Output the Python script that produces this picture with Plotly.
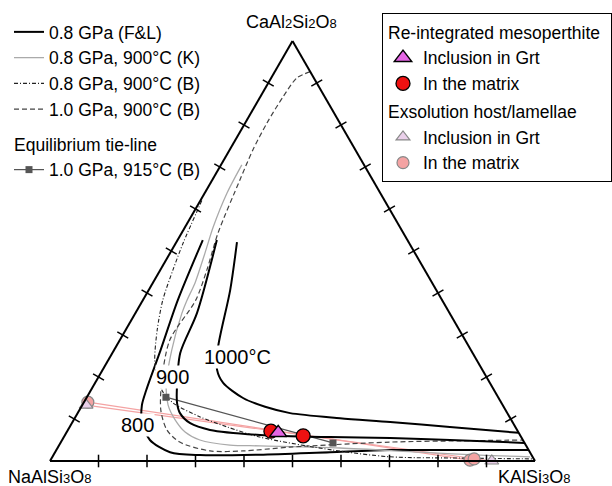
import plotly.graph_objects as go

# ---------------- data (An, Or in mol%; Ab = 100 - An - Or) ----------------
fl800_an = [52.6, 38.3, 26.4, 16.9, 13.3, 9.0, 5.0, 2.1, 1.4, 1.5, 2.1, 2.6, 2.6, 2.6]
fl800_or = [5.2, 7.2, 9.6, 11.4, 12.3, 14.5, 18.1, 23.7, 30.2, 42.5, 56.7, 68.8, 83.2, 97.4]

fl900_an = [52.6, 35.2, 25.7, 16.9, 13.8, 11.4, 9.0, 7.4, 6.2, 5.7, 5.5, 5.0, 4.3]
fl900_or = [8.1, 12.7, 14.0, 17.7, 19.3, 21.1, 24.4, 29.3, 40.2, 54.9, 67.4, 80.0, 95.7]

fl1000_an = [52.1, 40.7, 27.1, 21.7, 18.6, 15.0, 12.9, 11.4, 10.2, 9.3, 8.1, 6.7]
fl1000_or = [12.5, 16.8, 21.1, 23.6, 26.4, 32.3, 37.9, 43.8, 54.7, 65.5, 78.4, 93.3]

k900_an = [70.5, 63.8, 55.7, 49.5, 42.4, 38.3, 35.2, 26.4, 18.1, 13.3, 9.8, 6.9, 5.0, 3.8, 3.6, 3.1, 2.1, 1.4, 1.0]
k900_or = [4.3, 4.6, 5.8, 7.2, 8.7, 9.1, 9.6, 11.9, 14.9, 17.7, 20.9, 24.4, 28.4, 35.2, 41.5, 58.2, 75.2, 87.9, 98.5]

b08_an = [62.0, 51.9, 45.5, 38.3, 31.2, 24.0, 19.3, 16.4, 13.8, 10.5, 8.1, 5.7, 2.6, 1.0, 0.7, 0.5]
b08_or = [0.3, 1.5, 2.6, 4.1, 6.5, 9.6, 12.6, 15.1, 18.5, 25.7, 32.5, 40.4, 57.0, 69.6, 84.2, 99.1]

b10_an = [92.7, 91.2, 86.7, 80.5, 74.0, 66.9, 54.3, 45.5, 38.3, 28.8, 19.3, 12.1, 7.4, 4.5, 2.4, 2.4, 3.3, 4.5, 4.8, 5.0]
b10_or = [7.3, 5.3, 4.7, 4.5, 4.8, 5.7, 7.5, 9.6, 10.9, 10.3, 13.4, 16.8, 20.4, 24.5, 31.8, 38.6, 47.8, 67.8, 82.2, 95.0]

tie_an = [15.2, 4.3]
tie_or = [16.3, 56.2]

re_incl_an = [6.7]
re_incl_or = [43.7]
re_mat_an = [7.1, 6.0]
re_mat_or = [42.0, 49.2]

ex_incl_an = [13.3, 0.0]
ex_incl_or = [0.8, 91.1]
ex_mat_an = [14.0, 0.2, 0.5]
ex_mat_or = [0.8, 86.5, 87.2]

tick_vals = [10, 20, 30, 40, 50, 60, 70, 80, 90]


def ab(an, orr):
    return [100 - a - o for a, o in zip(an, orr)]


FONT = "Liberation Sans, Arial, sans-serif"
LEG_SIZE = 17.5
fig = go.Figure()

# ---------------- pink host/lamellae tie-lines ----------------
fig.add_trace(go.Scatterternary(a=[ex_mat_an[0], ex_mat_an[1], None, ex_incl_an[0], ex_incl_an[1]],
                                c=[ex_mat_or[0], ex_mat_or[1], None, ex_incl_or[0], ex_incl_or[1]],
                                b=[100 - ex_mat_an[0] - ex_mat_or[0], 100 - ex_mat_an[1] - ex_mat_or[1], None,
                                   100 - ex_incl_an[0] - ex_incl_or[0], 100 - ex_incl_an[1] - ex_incl_or[1]],
                                mode="lines", line=dict(color="#f4a3a3", width=1.2),
                                showlegend=False, hoverinfo="skip"))

# ---------------- solvus curves (legend entries) ----------------
spl = dict(shape="spline", smoothing=0.8)
fig.add_trace(go.Scatterternary(a=fl800_an, c=fl800_or, b=ab(fl800_an, fl800_or), mode="lines",
                                line=dict(color="black", width=2, **spl),
                                name="0.8 GPa (F&L)", legend="legend", legendgroup="curves"))
fig.add_trace(go.Scatterternary(a=k900_an, c=k900_or, b=ab(k900_an, k900_or), mode="lines",
                                line=dict(color="#aaaaaa", width=1.3, **spl),
                                name="0.8 GPa, 900°C (K)", legend="legend", legendgroup="curves"))
fig.add_trace(go.Scatterternary(a=b08_an, c=b08_or, b=ab(b08_an, b08_or), mode="lines",
                                line=dict(color="#222222", width=1.1, dash="4px,2px,1px,2px", **spl),
                                name="0.8 GPa, 900°C (B)", legend="legend", legendgroup="curves"))
fig.add_trace(go.Scatterternary(a=b10_an, c=b10_or, b=ab(b10_an, b10_or), mode="lines",
                                line=dict(color="#444444", width=1.2, dash="5px,3px", **spl),
                                name="1.0 GPa, 900°C (B)", legend="legend", legendgroup="curves"))
fig.add_trace(go.Scatterternary(a=tie_an, c=tie_or, b=ab(tie_an, tie_or), mode="lines+markers",
                                line=dict(color="#555555", width=1.2),
                                marker=dict(symbol="square", size=7, color="#555555"),
                                name="1.0 GPa, 915°C (B)", legend="legend", legendgroup="tie",
                                legendgrouptitle=dict(text="Equilibrium tie-line", font=dict(size=LEG_SIZE))))

# other F&L isotherms (same style as the 0.8 GPa (F&L) entry)
for an, orr in [(fl900_an, fl900_or), (fl1000_an, fl1000_or)]:
    fig.add_trace(go.Scatterternary(a=an, c=orr, b=ab(an, orr), mode="lines",
                                    line=dict(color="black", width=2, **spl), showlegend=False))

# ---------------- sample points ----------------
fig.add_trace(go.Scatterternary(a=ex_mat_an, c=ex_mat_or, b=ab(ex_mat_an, ex_mat_or), mode="markers",
                                marker=dict(symbol="circle", size=12, color="#f4a3a3",
                                            line=dict(color="#888888", width=1.2)),
                                cliponaxis=False, legendrank=4,
                                name="In the matrix", legend="legend2", legendgroup="ex"))
fig.add_trace(go.Scatterternary(a=ex_incl_an, c=ex_incl_or, b=ab(ex_incl_an, ex_incl_or), mode="markers",
                                marker=dict(symbol="triangle-up", size=12, color="#ead0ea",
                                            line=dict(color="#888888", width=1.2)),
                                cliponaxis=False, legendrank=3,
                                name="Inclusion in Grt", legend="legend2", legendgroup="ex",
                                legendgrouptitle=dict(text="Exsolution host/lamellae", font=dict(size=LEG_SIZE))))
fig.add_trace(go.Scatterternary(a=re_mat_an, c=re_mat_or, b=ab(re_mat_an, re_mat_or), mode="markers",
                                marker=dict(symbol="circle", size=14, color="#ee1111",
                                            line=dict(color="black", width=1.3)),
                                legendrank=2,
                                name="In the matrix", legend="legend2", legendgroup="re"))
fig.add_trace(go.Scatterternary(a=re_incl_an, c=re_incl_or, b=ab(re_incl_an, re_incl_or), mode="markers",
                                marker=dict(symbol="triangle-up", size=15, color="#e466e4",
                                            line=dict(color="black", width=1.5)),
                                legendrank=1,
                                name="Inclusion in Grt", legend="legend2", legendgroup="re",
                                legendgrouptitle=dict(text="Re-integrated mesoperthite", font=dict(size=LEG_SIZE))))

# ---------------- triangle tick marks (crossing the edges) ----------------
zeros = [0] * len(tick_vals)
rest = [100 - t for t in tick_vals]
tick_marker = dict(symbol="line-ns", size=9, line=dict(color="black", width=1.5))
for a_, b_, c_, ang in [
    (zeros, rest, tick_vals, 0),      # bottom edge
    (tick_vals, rest, zeros, -60),    # left edge
    (tick_vals, zeros, rest, 60),     # right edge
]:
    fig.add_trace(go.Scatterternary(a=a_, b=b_, c=c_, mode="markers", cliponaxis=False,
                                    marker=dict(tick_marker, angle=ang),
                                    showlegend=False, hoverinfo="skip"))

axis_style = dict(showgrid=False, showticklabels=False, ticks="", linecolor="black",
                  linewidth=2, title=dict(text=""), min=0)

W, H = 612, 486
ann_font = dict(family=FONT, size=18, color="black")
sub = '<span style="font-size:13px">{}</span>'
annotations = [
    dict(text="CaAl" + sub.format(2) + "Si" + sub.format(2) + "O" + sub.format(8), x=291 / W, y=1 - 22 / H),
    dict(text="NaAlSi" + sub.format(3) + "O" + sub.format(8), x=50 / W, y=1 - 477 / H),
    dict(text="KAlSi" + sub.format(3) + "O" + sub.format(8), x=534 / W, y=1 - 477 / H),
]
annotations = [dict(a, xref="paper", yref="paper", showarrow=False, xanchor="center",
                    yanchor="middle", font=ann_font) for a in annotations]
for txt, px, py in [("800", 137, 425), ("900", 172, 377), ("1000°C", 237, 357)]:
    annotations.append(dict(text=txt, x=px / W, y=1 - py / H, xref="paper", yref="paper",
                            showarrow=False, xanchor="center", yanchor="middle",
                            font=dict(family=FONT, size=20, color="black"),
                            bgcolor="white", borderpad=0))

fig.update_layout(
    width=W, height=H, margin=dict(l=0, r=0, t=0, b=0),
    paper_bgcolor="white", plot_bgcolor="white",
    font=dict(family=FONT, size=LEG_SIZE, color="black"),
    ternary=dict(sum=100, bgcolor="white",
                 domain=dict(x=[50 / W, 535 / W], y=[25 / H, 445 / H]),
                 aaxis=axis_style, baxis=axis_style, caxis=axis_style),
    legend=dict(x=9 / W, y=1 - 14 / H, xanchor="left", yanchor="top", traceorder="grouped",
                tracegroupgap=9, itemwidth=30, bgcolor="rgba(0,0,0,0)", font=dict(size=LEG_SIZE)),
    legend2=dict(x=1.0, y=1 - 13 / H, xanchor="right", yanchor="top", traceorder="grouped",
                 tracegroupgap=2, itemwidth=30, bgcolor="white", bordercolor="black",
                 borderwidth=1, font=dict(size=LEG_SIZE)),
    annotations=annotations,
    showlegend=True,
)

fig.write_html("out.html")
